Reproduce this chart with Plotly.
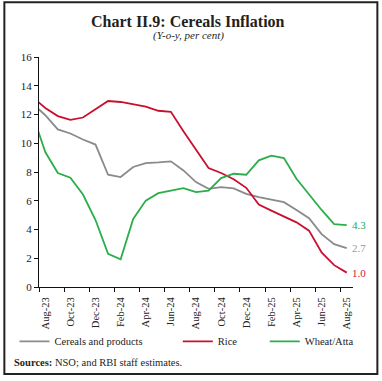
import plotly.graph_objects as go

months = ["Jul-23", "Aug-23", "Sep-23", "Oct-23", "Nov-23", "Dec-23", "Jan-24", "Feb-24", "Mar-24",
          "Apr-24", "May-24", "Jun-24", "Jul-24", "Aug-24", "Sep-24", "Oct-24", "Nov-24",
          "Dec-24", "Jan-25", "Feb-25", "Mar-25", "Apr-25", "May-25", "Jun-25", "Jul-25", "Aug-25"]

cereals = [12.75, 11.95, 10.96, 10.68, 10.26, 9.91, 7.81, 7.65, 8.35,
           8.62, 8.67, 8.74, 8.11, 7.30, 6.83, 6.95, 6.86,
           6.48, 6.25, 6.08, 5.90, 5.36, 4.78, 3.68, 2.98, 2.7]
rice = [13.2, 12.45, 11.89, 11.63, 11.79, 12.35, 12.94, 12.87, 12.70,
        12.54, 12.26, 12.19, 10.84, 9.53, 8.28, 7.93, 7.50,
        6.90, 5.73, 5.31, 4.92, 4.50, 3.92, 2.40, 1.52, 1.0]
wheat = [11.97, 9.39, 7.93, 7.60, 6.43, 4.66, 2.31, 1.93, 4.73,
         6.01, 6.53, 6.71, 6.88, 6.60, 6.71, 7.58, 7.88,
         7.81, 8.81, 9.14, 8.97, 7.53, 6.43, 5.36, 4.38, 4.3]

y_ticks = [0, 2, 4, 6, 8, 10, 12, 14, 16]

series = [("Cereals and products", cereals, "#8a8a8a", "legend"),
          ("Rice", rice, "#c8102e", "legend2"),
          ("Wheat/Atta", wheat, "#2aae4a", "legend3")]
label_colors = {"Cereals and products": "#9a9a9a", "Rice": "#d4143a", "Wheat/Atta": "#22a85a"}

xs = list(range(-1, len(months) - 1))  # Jul-23 at -1 (only partially visible), Aug-23 at 0
label_idx = list(range(0, len(months) - 1, 2))
label_vals = [xs[i + 1] for i in label_idx]
label_text = [months[i + 1] for i in label_idx]

FONT = "Liberation Serif"
fig = go.Figure()
for name, vals, col, leg in series:
    fig.add_trace(go.Scatter(x=xs, y=vals, mode="lines", name=name, legend=leg,
                             line=dict(color=col, width=1.8)))
    fig.add_annotation(x=xs[-1], y=vals[-1], text=f"{vals[-1]:.1f}", showarrow=False,
                       xanchor="left", yanchor="middle", xshift=3,
                       font=dict(family=FONT, size=11, color=label_colors[name]))

# invisible trace to activate overlay axis with boundary ticks
fig.add_trace(go.Scatter(x=[xs[1]], y=[0], xaxis="x2", mode="markers",
                         marker=dict(opacity=0), showlegend=False, hoverinfo="skip"))


def leg(xpos):
    return dict(orientation="h", x=xpos, y=-0.236, xanchor="left", yanchor="middle",
                font=dict(family=FONT, size=10.5, color="#222"), itemwidth=30,
                bgcolor="rgba(0,0,0,0)")


xr = [-0.5, xs[-1] + 0.5]
fig.update_layout(
    width=382, height=381,
    margin=dict(l=38.7, r=28.7, t=57.3, b=94.3, autoexpand=False),
    paper_bgcolor="white", plot_bgcolor="white",
    showlegend=True,
    legend=leg(-0.078), legend2=leg(0.442), legend3=leg(0.719),
    xaxis=dict(range=xr, tickmode="array", tickvals=label_vals, ticktext=label_text,
               tickangle=-90, ticks="outside", ticklen=5, tickcolor="rgba(0,0,0,0)",
               showline=True, linecolor="#111", linewidth=1.2, showgrid=False, zeroline=False,
               tickfont=dict(family=FONT, size=10.5, color="#222")),
    xaxis2=dict(range=xr, overlaying="x", anchor="y", side="bottom", tickmode="array",
                tickvals=[v - 0.5 for v in label_vals], ticktext=["" for _ in label_vals],
                ticks="outside", ticklen=4, tickcolor="#111", showline=False,
                showgrid=False, zeroline=False, showticklabels=False),
    yaxis=dict(range=[0, 16], tickmode="array", tickvals=y_ticks, ticks="outside", ticklen=4,
               tickcolor="#111", showline=True, linecolor="#111", linewidth=1.2,
               showgrid=False, zeroline=False,
               tickfont=dict(family=FONT, size=11, color="#222")),
)

fig.add_annotation(x=0.4746, y=1.154, xref="paper", yref="paper", showarrow=False,
                   text="<b>Chart II.9: Cereals Inflation</b>", xanchor="center", yanchor="middle",
                   font=dict(family=FONT, size=16, color="#231f20"))
fig.add_annotation(x=0.4746, y=1.093, xref="paper", yref="paper", showarrow=False,
                   text="<i>(Y-o-y, per cent)</i>", xanchor="center", yanchor="middle",
                   font=dict(family=FONT, size=11, color="#231f20"))
fig.add_annotation(x=-0.0849, y=-0.328, xref="paper", yref="paper", showarrow=False,
                   text="<b>Sources:</b> NSO; and RBI staff estimates.", xanchor="left",
                   yanchor="middle", font=dict(family=FONT, size=10.5, color="#231f20"))
fig.add_shape(type="rect", xref="paper", yref="paper", x0=-0.1103, x1=1.0776,
              y0=-0.378, y1=1.238, line=dict(color="#222", width=2))

fig.write_html("out.html", config={"displayModeBar": False},
               post_script="document.body.style.margin='0';document.body.style.overflow='hidden';")
